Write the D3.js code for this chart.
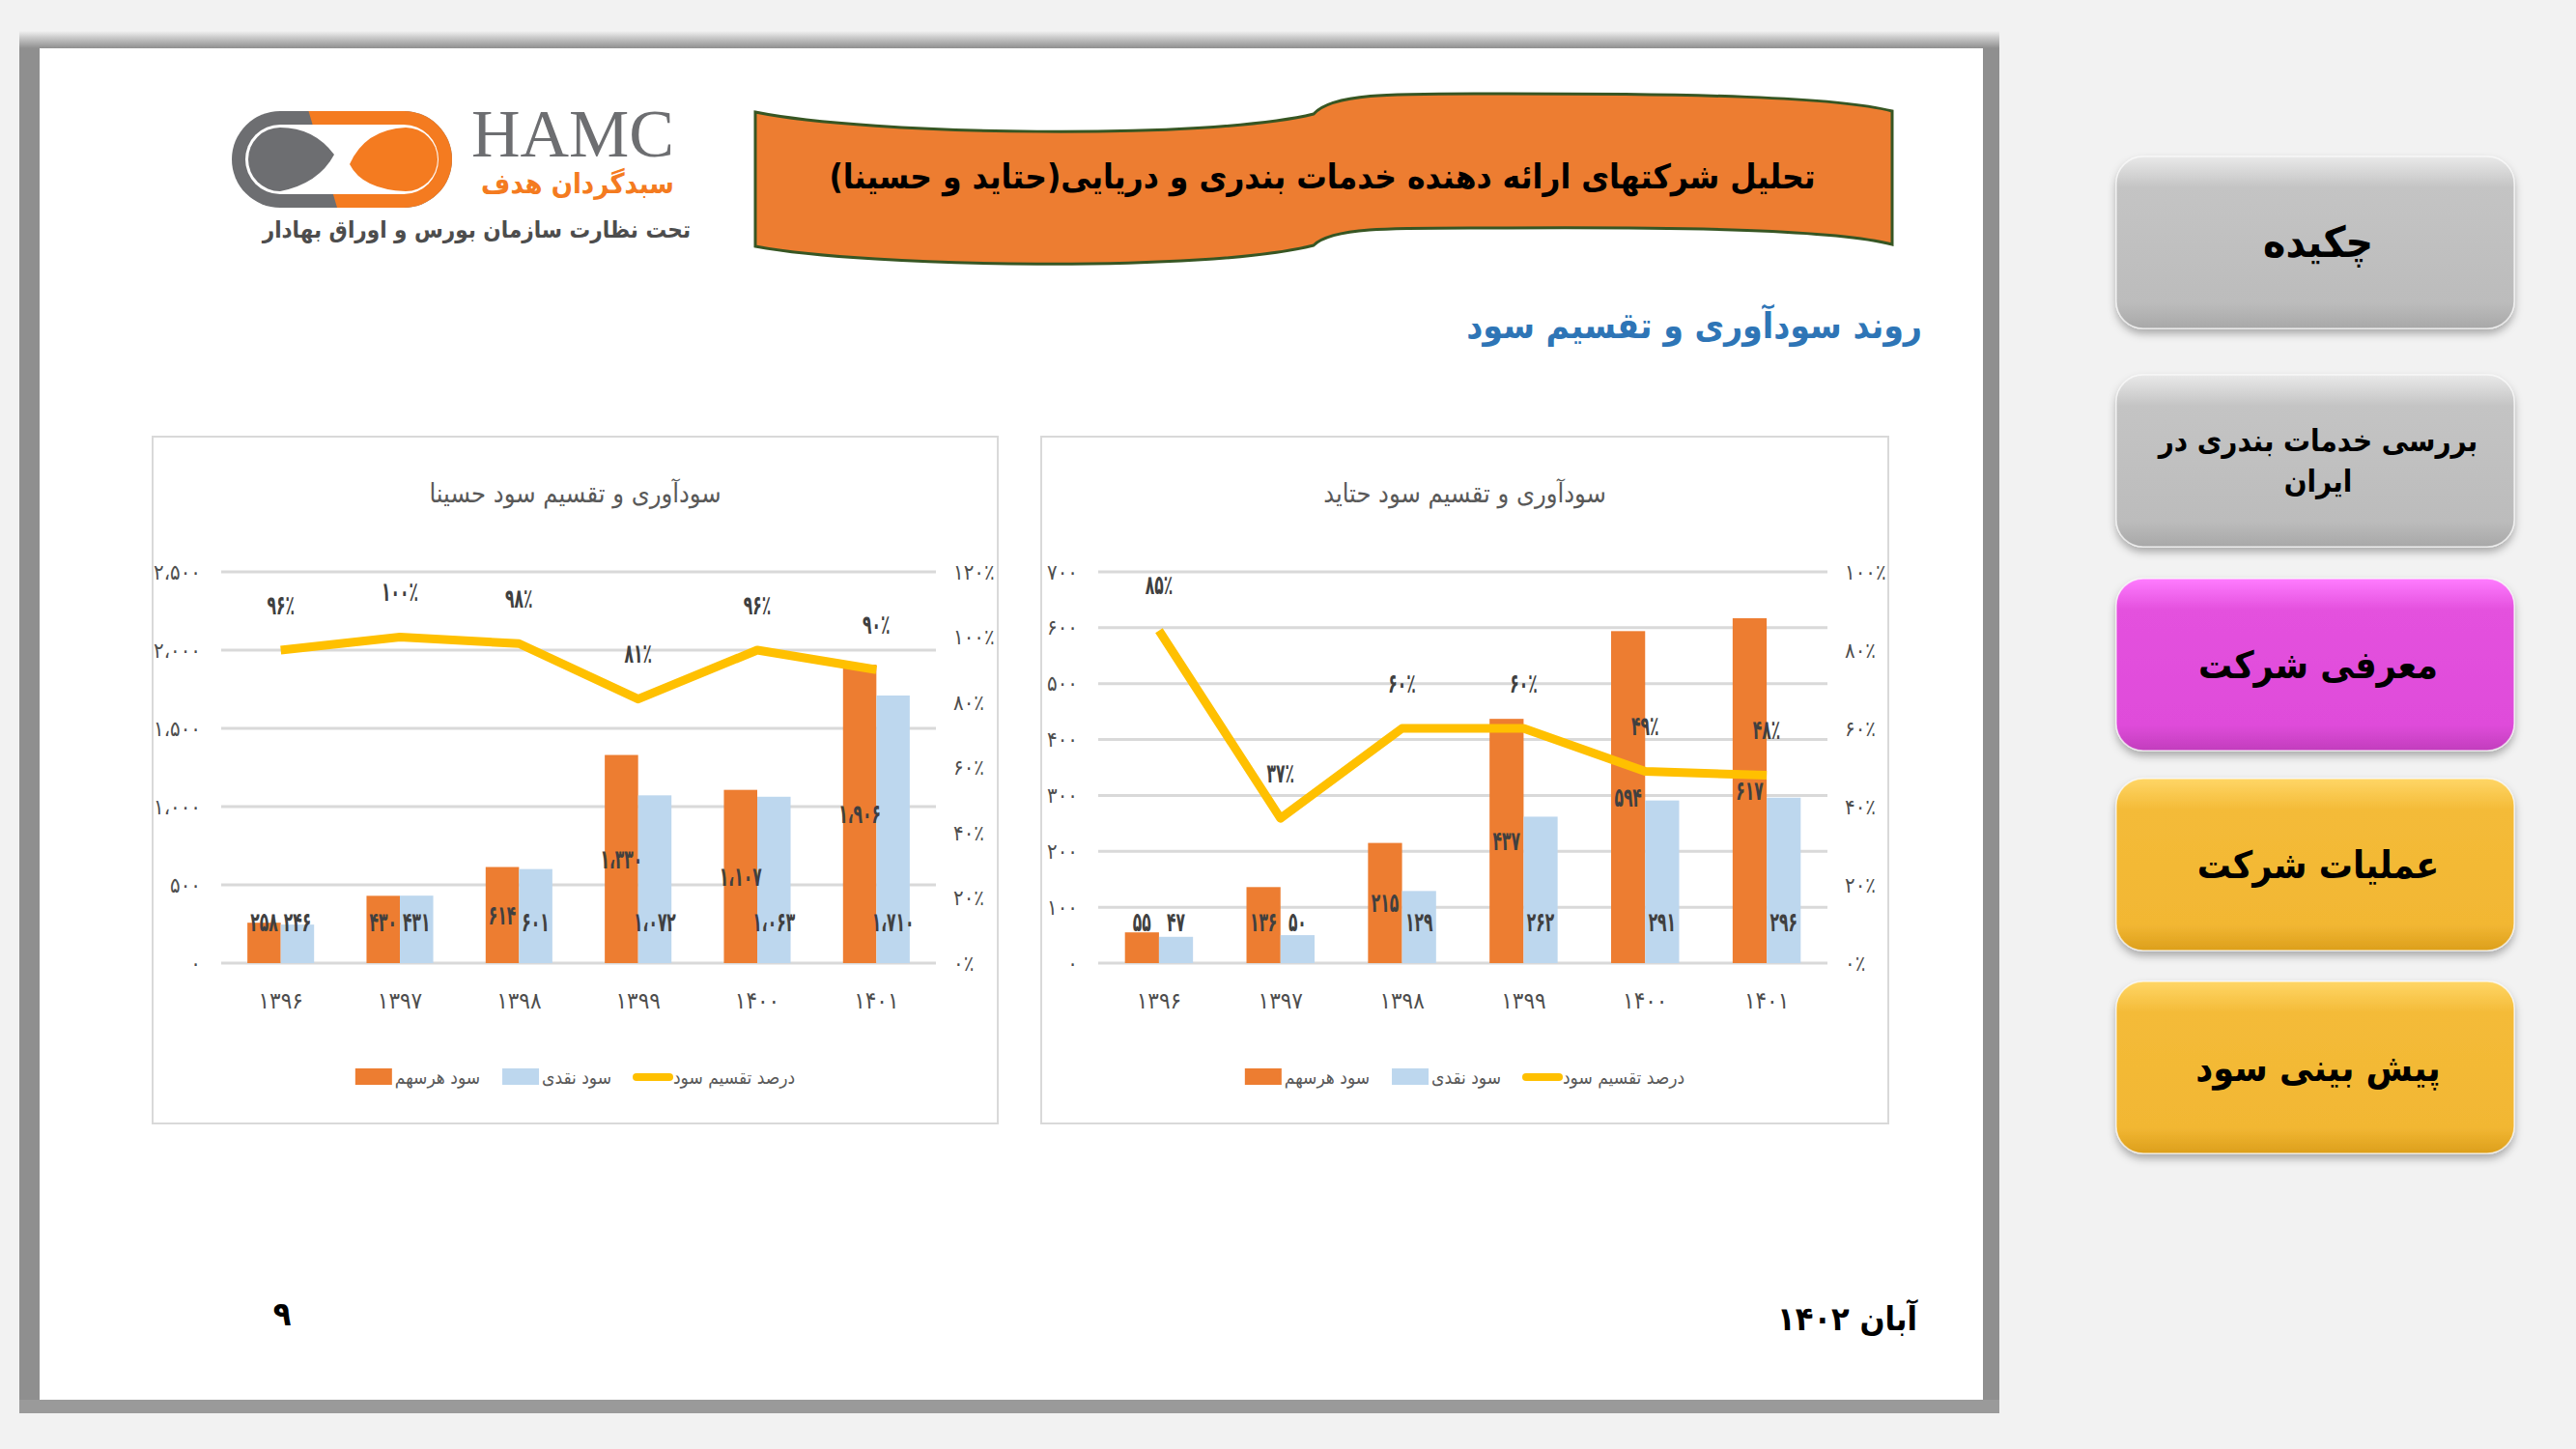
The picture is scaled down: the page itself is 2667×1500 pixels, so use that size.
<!DOCTYPE html>
<html lang="fa">
<head>
<meta charset="UTF-8">
<title>روند سودآوری و تقسیم سود</title>
<script src="https://d3js.org/d3.v7.min.js"></script>
<style>
    html, body { margin: 0; padding: 0; background: #f2f2f2; }
    svg { display: block; }
    text { font-family: "DejaVu Sans Condensed", "DejaVu Sans", sans-serif; }
</style>
</head>
<body>
<div id="slide"></div>
<script>
    // data
    const years = ['۱۳۹۶', '۱۳۹۷', '۱۳۹۸', '۱۳۹۹', '۱۴۰۰', '۱۴۰۱'];
    const seriesNames = ['سود هرسهم', 'سود نقدی', 'درصد تقسیم سود'];

    const hasinaEps = [258, 430, 614, 1330, 1107, 1906];
    const hasinaDps = [246, 431, 601, 1072, 1063, 1710];
    const hasinaPayout = [96, 100, 98, 81, 96, 90];

    const hatidEps = [55, 136, 215, 437, 594, 617];
    const hatidDps = [47, 50, 129, 262, 291, 296];
    const hatidPayout = [85, 37, 60, 60, 49, 48];

    const menuItems = ['چکیده', 'بررسی خدمات بندری در|ایران', 'معرفی شرکت', 'عملیات شرکت', 'پیش بینی سود'];

    const W = 2667, H = 1500;
    const orange = '#ed7d31', blue = '#bdd7ee', gold = '#ffc000', grid = '#d9d9d9';

    const faDigits = '۰۱۲۳۴۵۶۷۸۹';
    const fa = s => String(s).replace(/\d/g, d => faDigits[d]);
    const faNum = v => fa(d3.format(',')(v)).replace(/,/g, '،');
    const faPct = v => fa(Math.round(v)) + '٪';

    const svg = d3.select('#slide').append('svg')
        .attr('width', W)
        .attr('height', H);

    const defs = svg.append('defs');

    function vGrad(id, stops) {
        const gr = defs.append('linearGradient').attr('id', id)
            .attr('x1', 0).attr('y1', 0).attr('x2', 0).attr('y2', 1);
        stops.forEach(s => gr.append('stop').attr('offset', s[0]).attr('stop-color', s[1]));
    }
    vGrad('btnGray', [['0', '#e9e9e9'], ['0.18', '#c4c4c4'], ['0.85', '#bcbcbc'], ['1', '#a8a8a8']]);
    vGrad('btnPink', [['0', '#ff7cff'], ['0.18', '#e451de'], ['0.85', '#df4cda'], ['1', '#c23dbd']]);
    vGrad('btnGold', [['0', '#ffd666'], ['0.18', '#f4bb38'], ['0.85', '#f2b733'], ['1', '#dc9f1c']]);
    vGrad('frameTop', [['0', '#f2f2f2'], ['0.4', '#c8c8c8'], ['1', '#8f8f8f']]);

    const shadow = defs.append('filter').attr('id', 'shadow')
        .attr('x', '-10%').attr('y', '-10%').attr('width', '120%').attr('height', '130%');
    shadow.append('feDropShadow').attr('dx', 0).attr('dy', 5).attr('stdDeviation', 4)
        .attr('flood-color', '#000').attr('flood-opacity', 0.3);

    // slide frame
    svg.append('rect').attr('x', 20).attr('y', 32).attr('width', 2050).attr('height', 1431)
        .attr('fill', '#8f8f8f');
    svg.append('rect').attr('x', 20).attr('y', 32).attr('width', 2050).attr('height', 18)
        .attr('fill', 'url(#frameTop)');
    svg.append('rect').attr('x', 20).attr('y', 1449).attr('width', 2050).attr('height', 14)
        .attr('fill', '#9a9a9a');
    svg.append('rect').attr('x', 41).attr('y', 50).attr('width', 2012).attr('height', 1399)
        .attr('fill', '#ffffff');

    // logo
    const logo = svg.append('g');
    logo.append('rect').attr('x', 240).attr('y', 115).attr('width', 228).attr('height', 100)
        .attr('rx', 50).attr('fill', '#6d6e71');
    logo.append('clipPath').attr('id', 'logoClip')
        .append('rect').attr('x', 240).attr('y', 115).attr('width', 228).attr('height', 100).attr('rx', 50);
    logo.append('path').attr('d', 'M318,110 L480,110 L480,225 L352,225 Z')
        .attr('fill', '#f47b20').attr('clip-path', 'url(#logoClip)');
    logo.append('rect').attr('x', 254).attr('y', 129).attr('width', 200).attr('height', 72)
        .attr('rx', 36).attr('fill', '#ffffff');
    logo.append('path').attr('d', 'M290,132 A33,33 0 1,0 290,198 Q330,190 346,160 Q325,132 290,132 Z')
        .attr('fill', '#6d6e71');
    logo.append('path').attr('d', 'M420,132 A33,33 0 1,1 420,198 Q375,196 362,170 Q378,134 420,132 Z')
        .attr('fill', '#f47b20');
    logo.append('text').attr('x', 698).attr('y', 162).attr('text-anchor', 'end')
        .style('font-family', '"Liberation Serif", serif').style('font-size', '70px')
        .attr('fill', '#6d6e71').text('HAMC');
    logo.append('text').attr('x', 698).attr('y', 200).attr('text-anchor', 'end')
        .style('font-size', '29px').style('font-weight', 'bold')
        .attr('fill', '#f47b20').text('سبدگردان هدف');
    logo.append('text').attr('x', 715).attr('y', 246).attr('text-anchor', 'end')
        .style('font-size', '24px').style('font-weight', 'bold')
        .attr('fill', '#4d4d4d').text('تحت نظارت سازمان بورس و اوراق بهادار');

    // wavy title banner
    svg.append('path')
        .attr('d', 'M782,116 C900,140 1250,145 1360,118 C1380,95 1450,97 1560,97 ' +
            'C1750,97 1900,100 1959,115 L1959,253 C1900,238 1750,235 1560,236 ' +
            'C1450,236 1380,234 1360,254 C1250,282 900,277 782,255 Z')
        .attr('fill', orange).attr('stroke', '#375623').attr('stroke-width', 3);
    svg.append('text').attr('x', 1369).attr('y', 183).attr('dy', '0.35em')
        .attr('text-anchor', 'middle').attr('direction', 'rtl')
        .style('font-size', '35px').style('font-weight', 'bold').attr('fill', '#000')
        .text('تحلیل شرکتهای ارائه دهنده خدمات بندری و دریایی(حتاید و حسینا)');

    svg.append('text').attr('x', 1990).attr('y', 337).attr('dy', '0.35em')
        .attr('text-anchor', 'end')
        .style('font-size', '37px').style('font-weight', 'bold').attr('fill', '#2e75b6')
        .text('روند سودآوری و تقسیم سود');

    function drawChart(cfg) {
        const g = svg.append('g');
        const { box, plot } = cfg;

        g.append('rect').attr('x', box.x).attr('y', box.y).attr('width', box.w).attr('height', box.h)
            .attr('fill', '#fff').attr('stroke', grid).attr('stroke-width', 2);

        g.append('text').attr('x', box.x + box.w / 2).attr('y', box.y + 59).attr('dy', '0.35em')
            .attr('text-anchor', 'middle').style('font-size', '27px').attr('fill', '#595959')
            .text(cfg.title);

        const x = d3.scaleBand(years, [plot.left, plot.right]).paddingInner(0.44).paddingOuter(0.22);
        const xs = d3.scaleBand(['eps', 'dps'], [0, x.bandwidth()]);
        const y = d3.scaleLinear([0, cfg.yMax], [plot.bottom, plot.top]);
        const y2 = d3.scaleLinear([0, cfg.pMax], [plot.bottom, plot.top]);
        const yTicks = d3.range(0, cfg.yMax + 1, cfg.yStep);
        const pTicks = d3.range(0, cfg.pMax + 1, 20);

        g.append('g').selectAll('line').data(yTicks).join('line')
            .attr('x1', plot.left).attr('x2', plot.right)
            .attr('y1', d => y(d)).attr('y2', d => y(d))
            .attr('stroke', grid).attr('stroke-width', 3);

        const left = g.append('g').attr('transform', `translate(${plot.left},0)`)
            .call(d3.axisLeft(y).tickValues(yTicks).tickSize(0).tickPadding(21).tickFormat(faNum));
        const right = g.append('g').attr('transform', `translate(${plot.right},0)`)
            .call(d3.axisRight(y2).tickValues(pTicks).tickSize(0).tickPadding(18).tickFormat(faPct));
        [left, right].forEach(a => {
            a.select('.domain').remove();
            a.selectAll('text').style('font-size', '22px').style('font-family', '"DejaVu Sans Condensed", sans-serif')
                .attr('fill', '#4d4d4d');
        });

        const bottom = g.append('g').attr('transform', `translate(0,${plot.bottom})`)
            .call(d3.axisBottom(x).tickSize(0).tickPadding(30));
        bottom.select('.domain').remove();
        bottom.selectAll('text').style('font-size', '24px')
            .style('font-family', '"DejaVu Sans Condensed", sans-serif').attr('fill', '#4d4d4d');

        const rows = years.map((yr, i) => ({ yr, eps: cfg.eps[i], dps: cfg.dps[i], pay: cfg.payout[i] }));

        const groups = g.append('g').selectAll('g').data(rows).join('g')
            .attr('transform', d => `translate(${x(d.yr)},0)`);
        groups.append('rect').attr('x', xs('eps')).attr('width', xs.bandwidth())
            .attr('y', d => y(d.eps)).attr('height', d => y(0) - y(d.eps)).attr('fill', orange);
        groups.append('rect').attr('x', xs('dps')).attr('width', xs.bandwidth())
            .attr('y', d => y(d.dps)).attr('height', d => y(0) - y(d.dps)).attr('fill', blue);

        // narrow bold labels, like the condensed font of the original
        const label = (sel, px, py) => sel
            .attr('transform', d => `translate(${px(d)},${py(d)}) scale(0.72,1.15)`)
            .attr('text-anchor', 'middle').attr('dy', '0.35em')
            .style('font-size', '24px').style('font-weight', 'bold').attr('fill', '#404040');
        const half = xs.bandwidth() / 2;
        groups.append('text')
            .call(label, () => xs('eps') + half, d => Math.min((y(d.eps) + y(0)) / 2, y(0) - 43))
            .text(d => faNum(d.eps));
        groups.append('text')
            .call(label, () => xs('dps') + half, () => y(0) - 43)
            .text(d => faNum(d.dps));

        const cx = d => x(d.yr) + x.bandwidth() / 2;
        g.append('path').datum(rows)
            .attr('d', d3.line().x(cx).y(d => y2(d.pay)))
            .attr('fill', 'none').attr('stroke', gold).attr('stroke-width', 9)
            .attr('stroke-linejoin', 'round');
        g.append('g').selectAll('text').data(rows).join('text')
            .call(label, cx, d => y2(d.pay) - 47)
            .text(d => faPct(d.pay));

        // legend
        const lg = g.append('g');
        const ly = box.y + 663;
        let pos = 0;
        seriesNames.forEach((name, i) => {
            if (i < 2) {
                lg.append('rect').attr('x', pos).attr('y', ly - 9).attr('width', 38).attr('height', 17)
                    .attr('fill', i === 0 ? orange : blue);
            } else {
                lg.append('line').attr('x1', pos + 3).attr('x2', pos + 37).attr('y1', ly).attr('y2', ly)
                    .attr('stroke', gold).attr('stroke-width', 8).attr('stroke-linecap', 'round');
            }
            const t = lg.append('text').attr('x', pos + 41).attr('y', ly).attr('dy', '0.35em')
                .style('font-size', '19px').attr('fill', '#595959').text(name);
            pos += 41 + t.node().getComputedTextLength() + 23;
        });
        lg.attr('transform', `translate(${box.x + box.w / 2 - (pos - 23) / 2},0)`);
    }

    drawChart({
        title: 'سودآوری و تقسیم سود حسینا',
        box: { x: 158, y: 452, w: 875, h: 711 },
        plot: { left: 229, right: 969, top: 592, bottom: 997 },
        eps: hasinaEps, dps: hasinaDps, payout: hasinaPayout,
        yMax: 2500, yStep: 500, pMax: 120
    });
    drawChart({
        title: 'سودآوری و تقسیم سود حتاید',
        box: { x: 1078, y: 452, w: 877, h: 711 },
        plot: { left: 1137, right: 1892, top: 592, bottom: 997 },
        eps: hatidEps, dps: hatidDps, payout: hatidPayout,
        yMax: 700, yStep: 100, pMax: 100
    });

    // footer
    svg.append('text').attr('x', 1985).attr('y', 1365).attr('dy', '0.35em')
        .attr('text-anchor', 'start').attr('direction', 'rtl')
        .style('font-size', '34px').style('font-weight', 'bold').attr('fill', '#000')
        .text('آبان ۱۴۰۲');
    svg.append('text').attr('x', 292).attr('y', 1360).attr('dy', '0.35em')
        .attr('text-anchor', 'middle')
        .style('font-size', '34px').style('font-weight', 'bold').attr('fill', '#000')
        .text(fa(9));

    // side menu
    const btnBoxes = [[162, 'btnGray', 44], [388, 'btnGray', 31], [599, 'btnPink', 39],
        [806, 'btnGold', 39], [1016, 'btnGold', 39]];
    menuItems.forEach((label, i) => {
        const [by, fill, fs] = btnBoxes[i];
        const bh = 178;
        const b = svg.append('g');
        b.append('rect').attr('x', 2191).attr('y', by).attr('width', 412).attr('height', bh)
            .attr('rx', 28).attr('fill', `url(#${fill})`).attr('filter', 'url(#shadow)')
            .attr('stroke', 'rgba(255,255,255,0.6)').attr('stroke-width', 1.5);
        const lines = label.split('|');
        lines.forEach((ln, k) => {
            b.append('text').attr('x', 2400)
                .attr('y', by + bh / 2 + (k - (lines.length - 1) / 2) * 42)
                .attr('dy', '0.35em').attr('text-anchor', 'middle')
                .style('font-size', fs + 'px').style('font-weight', 'bold').attr('fill', '#000')
                .text(ln);
        });
    });
</script>
</body>
</html>
